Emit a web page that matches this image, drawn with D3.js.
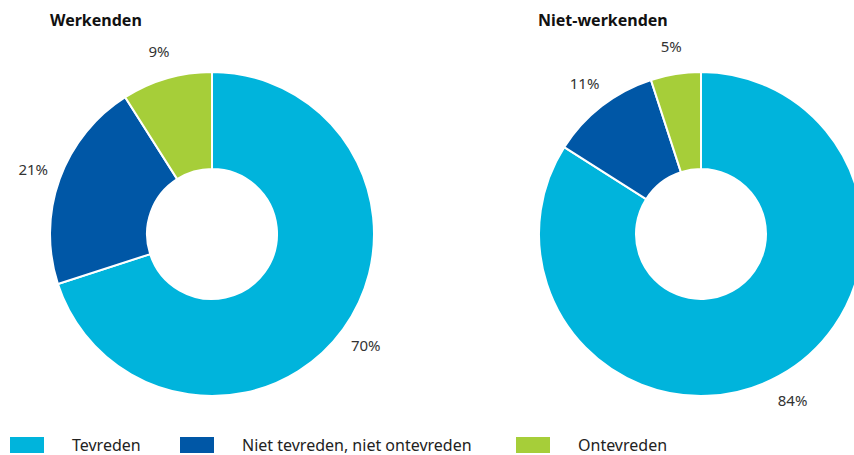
<!DOCTYPE html>
<html>
<head>
<meta charset="utf-8">
<script src="https://cdn.jsdelivr.net/npm/d3@7"></script>
<style>
  body { margin: 0; background: #fff; }
  svg { display: block; }
  text { font-family: "Noto Sans", sans-serif; }
</style>
</head>
<body>
<svg id="chart" width="854" height="455"></svg>
<script>
// data
var categories = ["Tevreden", "Niet tevreden, niet ontevreden", "Ontevreden"];
var groups = ["Werkenden", "Niet-werkenden"];
var werkenden = [70, 21, 9];
var nietWerkenden = [84, 11, 5];
var colors = ["#00b4dc", "#0057a6", "#a6ce39"];

var svg = d3.select("#chart");
var outerR = 162, innerR = 65, labelR = 190;
var centers = [[212, 234], [701, 234]];
var titleX = [50, 538];
var series = [werkenden, nietWerkenden];

var color = d3.scaleOrdinal().domain(categories).range(colors);

var pie = d3.pie().sort(null).value(function(d){ return d.value; });
var arc = d3.arc().innerRadius(innerR).outerRadius(outerR);
var labelArc = d3.arc().innerRadius(labelR).outerRadius(labelR);

for (var g = 0; g < groups.length; g++) {
  var data = categories.map(function(c, i){ return {cat: c, value: series[g][i]}; });
  var grp = svg.append("g")
    .attr("transform", "translate(" + centers[g][0] + "," + centers[g][1] + ")");

  grp.selectAll("path")
    .data(pie(data))
    .enter().append("path")
    .attr("d", arc)
    .attr("fill", function(d){ return color(d.data.cat); })
    .attr("stroke", "#fff")
    .attr("stroke-width", 2);

  grp.selectAll("text.val")
    .data(pie(data))
    .enter().append("text")
    .attr("class", "val")
    .attr("transform", function(d){ return "translate(" + labelArc.centroid(d) + ")"; })
    .attr("text-anchor", "middle")
    .attr("dy", "0.35em")
    .attr("font-size", 15)
    .attr("fill", "#333")
    .text(function(d){ return d.data.value + "%"; });

  svg.append("text")
    .attr("x", titleX[g])
    .attr("y", 26)
    .attr("font-size", 16)
    .attr("font-weight", "bold")
    .attr("fill", "#111")
    .text(groups[g]);
}

// legend
var legendX = [10, 180, 516];
var leg = svg.selectAll("g.legend")
  .data(categories)
  .enter().append("g")
  .attr("class", "legend")
  .attr("transform", function(d, i){ return "translate(" + legendX[i] + ",437)"; });

leg.append("rect")
  .attr("width", 34)
  .attr("height", 16)
  .attr("fill", function(d){ return color(d); });

leg.append("text")
  .attr("x", 62)
  .attr("y", 14)
  .attr("font-size", 16)
  .attr("fill", "#222")
  .text(function(d){ return d; });
</script>
</body>
</html>
